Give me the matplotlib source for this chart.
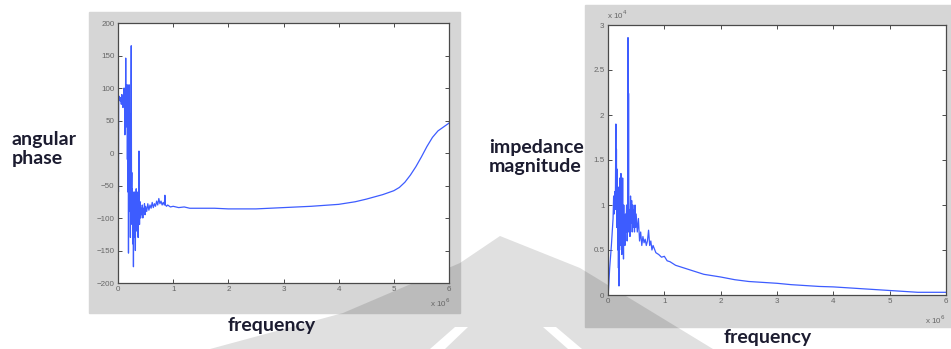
import matplotlib
matplotlib.use("Agg")
import matplotlib.pyplot as plt
from matplotlib.patches import Polygon, Rectangle

# angular phase (degrees) vs frequency (x 1e6)
phase_f = [0.000, 0.004, 0.008, 0.012, 0.02, 0.03, 0.04, 0.05, 0.06, 0.07, 0.08, 0.09,
           0.10, 0.11, 0.12, 0.125, 0.13, 0.135, 0.14, 0.145, 0.15, 0.16, 0.165, 0.17,
           0.175, 0.18, 0.185, 0.19, 0.195, 0.20, 0.205, 0.21, 0.215, 0.22, 0.225, 0.23,
           0.24, 0.245, 0.25, 0.255, 0.26, 0.265, 0.27, 0.275, 0.28, 0.285, 0.29, 0.295,
           0.30, 0.305, 0.31, 0.315, 0.32, 0.325, 0.33, 0.335, 0.34, 0.345, 0.35, 0.355,
           0.36, 0.365, 0.37, 0.375, 0.38, 0.385, 0.39, 0.40, 0.41, 0.42, 0.43, 0.44,
           0.45, 0.46, 0.47, 0.48, 0.49, 0.50, 0.52, 0.54, 0.56, 0.58, 0.60, 0.62,
           0.64, 0.66, 0.68, 0.70, 0.72, 0.74, 0.76, 0.78, 0.80, 0.82, 0.84, 0.85,
           0.86, 0.88, 0.90, 0.95, 1.0, 1.1, 1.2, 1.3, 1.5, 1.75, 2.0, 2.5,
           3.0, 3.5, 4.0, 4.3, 4.5, 4.8, 5.0, 5.1, 5.2, 5.3, 5.4, 5.5,
           5.6, 5.7, 5.8, 5.9, 6.0]
phase_deg = [-92, 125, -60, 88, 84, 86, 80, 85, 75, 90, 78, 70,
             82, 100, 65, 28, 70, 60, 146, 55, 95, 40, 105, -10,
             80, -60, 50, -154, 30, 105, -40, 60, -90, 20, -130, -20,
             165, -60, -30, -110, -55, -80, -140, -60, -175, -70, -100, -110,
             -60, -130, -80, -150, -70, -100, -55, -120, -85, -95, -60, -110,
             -90, -130, -80, -100, 3, -90, -110, -75, -100, -85, -95, -80,
             -100, -85, -90, -78, -95, -82, -90, -78, -88, -80, -85, -76,
             -84, -78, -82, -74, -80, -70, -78, -74, -80, -76, -80, -65,
             -80, -82, -80, -83, -82, -84, -83, -85, -85, -85, -86, -86,
             -84, -82, -79, -75, -71, -64, -58, -53, -45, -34, -21, -6,
             10, 24, 34, 40, 46]

# impedance magnitude (x 1e4) vs frequency (x 1e6)
mag_f = [0.0, 0.005, 0.03, 0.06, 0.09, 0.10, 0.11, 0.12, 0.13, 0.14, 0.145, 0.15,
         0.155, 0.16, 0.165, 0.17, 0.175, 0.18, 0.185, 0.19, 0.195, 0.20, 0.205, 0.21,
         0.215, 0.22, 0.225, 0.23, 0.235, 0.24, 0.245, 0.25, 0.255, 0.26, 0.265, 0.27,
         0.275, 0.28, 0.285, 0.29, 0.30, 0.31, 0.32, 0.33, 0.34, 0.35, 0.355, 0.36,
         0.365, 0.37, 0.38, 0.39, 0.40, 0.41, 0.42, 0.43, 0.44, 0.45, 0.46, 0.47,
         0.48, 0.49, 0.50, 0.52, 0.54, 0.56, 0.58, 0.60, 0.62, 0.64, 0.66, 0.68,
         0.70, 0.72, 0.74, 0.76, 0.78, 0.80, 0.85, 0.90, 0.95, 1.0, 1.05, 1.1,
         1.2, 1.3, 1.4, 1.5, 1.6, 1.7, 1.8, 2.0, 2.25, 2.5, 2.75, 3.0,
         3.25, 3.5, 3.75, 4.0, 4.25, 4.5, 4.75, 5.0, 5.25, 5.5, 5.75, 6.0]
mag_val = [0.0, 0.02, 0.3, 0.55, 0.85, 1.1, 0.9, 1.15, 0.95, 1.9, 1.0, 1.62,
           0.75, 1.4, 0.9, 1.1, 0.5, 1.2, 0.3, 0.9, 0.1, 1.0, 0.5, 1.3,
           0.7, 1.25, 0.55, 1.35, 0.8, 1.3, 0.45, 1.1, 0.6, 1.3, 0.5, 0.9,
           0.4, 1.0, 0.6, 0.85, 0.55, 0.9, 0.7, 1.0, 0.6, 0.8, 2.86, 0.7,
           2.24, 0.75, 0.95, 0.65, 1.1, 0.8, 1.05, 0.7, 1.0, 0.75, 0.95, 0.7,
           1.0, 0.75, 0.9, 0.7, 0.85, 0.6, 0.7, 0.55, 0.65, 0.58, 0.62, 0.55,
           0.60, 0.72, 0.55, 0.60, 0.50, 0.55, 0.47, 0.45, 0.42, 0.43, 0.38, 0.37,
           0.33, 0.31, 0.29, 0.27, 0.25, 0.23, 0.22, 0.20, 0.17, 0.15, 0.14, 0.13,
           0.115, 0.105, 0.095, 0.09, 0.08, 0.07, 0.06, 0.05, 0.04, 0.03, 0.03, 0.03]

W, H = 951, 349
LINE = "#3d5cff"
GRAY = "#d6d6d6"
LABEL = "#1c1c30"


def px(x0, y0, x1, y1):
    # pixel box (top-left origin) -> figure fraction rect
    return [x0 / W, 1 - y1 / H, (x1 - x0) / W, (y1 - y0) / H]


def matlab_axes(ax):
    ax.set_zorder(2)
    ax.set_facecolor("white")
    for s in ax.spines.values():
        s.set_color("#4a4a4a")
        s.set_linewidth(0.9)
    ax.tick_params(direction="in", top=True, right=True, length=3, width=0.7,
                   colors="#4a4a4a", labelcolor="#666666", labelsize=5.8, pad=2.5)
    for t in ax.get_xticklabels() + ax.get_yticklabels():
        t.set_family("Liberation Sans")


fig = plt.figure(figsize=(W / 100, H / 100), dpi=100)
fig.patch.set_facecolor("white")

# grey figure frames of the two screenshots
fig.patches.append(Rectangle((89 / W, 1 - 313 / H), (460 - 89) / W, (313 - 12) / H,
                             transform=fig.transFigure, color=GRAY, zorder=0))
fig.patches.append(Rectangle((585 / W, 1 - 327 / H), (W - 585) / W, (327 - 5) / H,
                             transform=fig.transFigure, color=GRAY, zorder=0))

# faint watermark
wm = [(210, 349), (343, 313), (460, 263), (500, 236), (580, 268), (713, 349)]
fig.patches.append(Polygon([(x / W, 1 - y / H) for x, y in wm], closed=True,
                           transform=fig.transFigure, color="black", alpha=0.12,
                           lw=0, zorder=0.5))
for stripe in ([(430, 349), (455, 327), (468, 327), (445, 349)],
               [(543, 327), (556, 327), (582, 349), (568, 349)]):
    fig.patches.append(Polygon([(x / W, 1 - y / H) for x, y in stripe], closed=True,
                               transform=fig.transFigure, color="white", lw=0, zorder=0.6))

# left: angular phase
ax1 = fig.add_axes(px(118, 23, 449, 283))
ax1.plot(phase_f, phase_deg, color=LINE, lw=0.9)
ax1.set_xlim(0, 6)
ax1.set_ylim(-200, 200)
ax1.set_xticks(range(0, 7))
ax1.set_yticks(range(-200, 201, 50))
matlab_axes(ax1)
fig.text(430 / W, 1 - 303 / H, r"x 10$^{6}$", fontsize=5.8, color="#666666",
         family="Liberation Sans", va="center")

# right: impedance magnitude
ax2 = fig.add_axes(px(608, 25, 946, 295))
ax2.plot(mag_f, mag_val, color=LINE, lw=0.9)
ax2.set_xlim(0, 6)
ax2.set_ylim(0, 3)
ax2.set_xticks(range(0, 7))
ax2.set_yticks([0, 0.5, 1, 1.5, 2, 2.5, 3])
ax2.set_yticklabels(["0", "0.5", "1", "1.5", "2", "2.5", "3"])
matlab_axes(ax2)
fig.text(607 / W, 1 - 15 / H, r"x 10$^{4}$", fontsize=5.8, color="#666666",
         family="Liberation Sans", va="center")
fig.text(925 / W, 1 - 320 / H, r"x 10$^{6}$", fontsize=5.8, color="#666666",
         family="Liberation Sans", va="center")

# slide labels
lab = dict(fontsize=14, fontweight="bold", color=LABEL, family="Lato")
fig.text(12 / W, 1 - 149 / H, "angular\nphase", ha="left", va="center",
         linespacing=1.15, **lab)
fig.text(489 / W, 1 - 157 / H, "impedance\nmagnitude", ha="left", va="center",
         linespacing=1.15, **lab)
fig.text(272 / W, 1 - 325 / H, "frequency", ha="center", va="center", **lab)
fig.text(768 / W, 1 - 337 / H, "frequency", ha="center", va="center", **lab)

fig.savefig("out.png", dpi=100)
